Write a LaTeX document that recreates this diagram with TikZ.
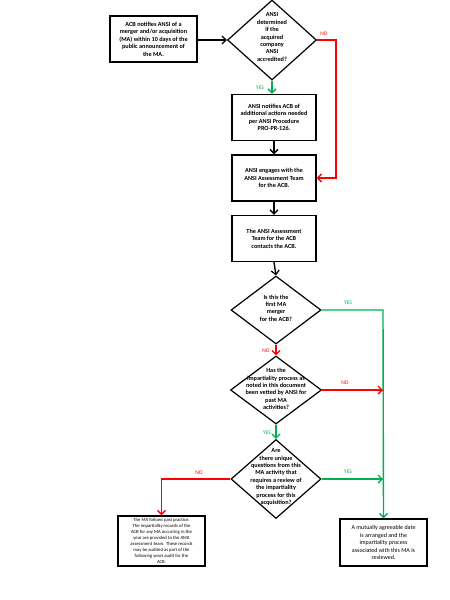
\documentclass[tikz,border=0pt]{standalone}
\usepackage{fontspec}
\setmainfont{Carlito}
\usetikzlibrary{arrows.meta,shapes.geometric}
\definecolor{nored}{RGB}{255,0,0}
\definecolor{yesgreen}{RGB}{0,176,80}
\begin{document}
\begin{tikzpicture}[x=1pt,y=-1pt,
  boxnode/.style={draw,line width=1.4pt,align=center,inner sep=0pt,font=\fontsize{6.2}{7.5}\selectfont\bfseries},
  dia/.style={draw,diamond,line width=1.2pt,inner sep=0pt},
  dtext/.style={align=center,inner sep=0pt,font=\fontsize{6.2}{7.4}\selectfont\bfseries},
  arr/.style={line width=1.4pt,-{Straight Barb[length=4pt,width=8pt,line width=1.3pt]}},
  lbl/.style={inner sep=0pt,font=\fontsize{5.5}{6}\selectfont}
]
\path[fill=white] (0,0) rectangle (450,600);
\useasboundingbox (0,0) rectangle (450,600);

% boxes
\node[boxnode,minimum width=87pt,minimum height=46pt] (b1) at (153.5,39)
  {ACB notifies ANSI of a\\merger and/or acquisition\\(MA) within 10 days of the\\public announcement of\\the MA.};
\node[boxnode,minimum width=84pt,minimum height=46pt] (b2) at (274,117.5)
  {ANSI notifies ACB of\\additional actions needed\\per ANSI Procedure\\PRO-PR-126.};
\node[boxnode,minimum width=84pt,minimum height=46pt] (b3) at (274,178)
  {ANSI engages with the\\ANSI Assessment Team\\for the ACB.};
\node[boxnode,minimum width=84pt,minimum height=46pt] (b4) at (274,238.5)
  {The ANSI Assessment\\Team for the ACB\\contacts the ACB.};
\node[boxnode,minimum width=87pt,minimum height=50pt,font=\fontsize{4.7}{6}\selectfont] (b5) at (161.5,541)
  {The MA follows  past practice.\\The impartiality  records of the\\ACB  for any MA occurring  in the\\year are provided to the  ANSI\\assessment team.  These records\\may be audited  as part of the\\following  years audit  for the\\ACB.};
\node[boxnode,minimum width=87pt,minimum height=47pt,font=\fontsize{6}{7.5}\selectfont] (b6) at (383.5,542.5)
  {A mutually agreeable date\\is arranged and the\\impartiality process\\associated with this MA is\\reviewed.};

% diamonds
\node[dia,minimum width=89pt,minimum height=80pt] (d1) at (272,40) {};
\node[dtext] (d1t) at (272,37) {ANSI\\determined\\if the\\acquired\\company\\ANSI\\accredited?};
\node[dia,minimum width=90pt,minimum height=68pt] (d2) at (276,310) {};
\node[dtext] (d2t) at (276,308) {Is this the\\first MA\\merger\\for the ACB?};
\node[dia,minimum width=91pt,minimum height=68pt] (d3) at (276,390) {};
\node[dtext] (d3t) at (276,389) {Has the\\impartiality process as\\noted in this document\\been vetted by ANSI for\\past MA\\activities?};
\node[dia,minimum width=90pt,minimum height=79pt] (d4) at (276,479) {};
\node[dtext] (d4t) at (276,477) {Are\\there unique\\questions  from this\\MA activity that\\requires a review of\\the impartiality\\process for this\\acquisition?};

% helper coordinates
\coordinate (c1) at (336,40);
\coordinate (c2) at (383,310);

% connectors
\draw[arr] (b1.east |- d1.west) -- (d1.west);
\draw[arr,yesgreen] (d1.south) -- (d1.south |- b2.north);
\draw[arr] (b2.south) -- (b3.north);
\draw[arr] (b3.south) -- (b4.north);
\draw[arr] (b4.south) -- (d2.north);
\draw[arr,nored] (d1.east) -- (c1) |- (b3.east);
\draw[arr,yesgreen] (d2.east) -- (c2) -- (b6.north);
\draw[arr,nored] (d2.south) -- (d3.north);
\draw[arr,nored] (d3.east) -- (c2 |- d3.east);
\draw[arr,yesgreen] (d3.south) -- (d4.north);
\draw[arr,yesgreen] (d4.east) -- (c2 |- d4.east);
\draw[arr,nored] (d4.west) -| (b5.north);

% labels
\node[lbl,text=nored] (l1) at (324,34) {NO};
\node[lbl,text=yesgreen] (l2) at (260,88) {YES};
\node[lbl,text=yesgreen] (l3) at (348,303) {YES};
\node[lbl,text=nored] (l4) at (266,351) {NO};
\node[lbl,text=nored] (l5) at (345,383) {NO};
\node[lbl,text=yesgreen] (l6) at (267,433) {YES};
\node[lbl,text=nored] (l7) at (199,473) {NO};
\node[lbl,text=yesgreen] (l8) at (348,472) {YES};
\end{tikzpicture}
\end{document}
